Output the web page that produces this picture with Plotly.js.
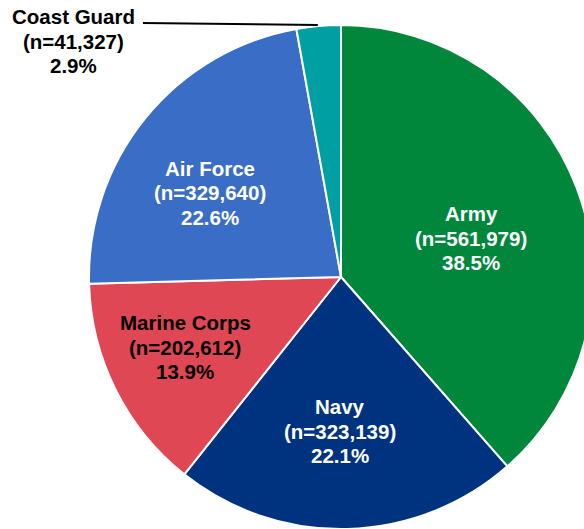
<!DOCTYPE html>
<html><head><meta charset="utf-8">
<script src="https://cdn.plot.ly/plotly-3.0.1.min.js"></script>
<style>html,body{margin:0;padding:0;overflow:hidden;background:#fff}#chart{width:600px;height:529px}</style>
</head><body><div id="chart"></div>
<script>
const branches = ["Army", "Navy", "Marine Corps", "Air Force", "Coast Guard"];
const counts = [561979, 323139, 202612, 329640, 41327];
const percents = ["38.5%", "22.1%", "13.9%", "22.6%", "2.9%"];
const colors = ["#00873C", "#00337F", "#E04754", "#3A6DC6", "#00A0A2"];
const textColors = ["#ffffff", "#ffffff", "#000000", "#ffffff", "#000000"];

// label block centres (paper coordinates of the plot area), one per slice
const labelPos = [[0.758, 0.577], [0.499, 0.194], [0.191, 0.361], [0.240, 0.667], [-0.030, 0.968]];
const lineGap = 24.5 / 504;
const fontSize = 20.5;

const fmt = n => n.toLocaleString("en-US");
const labelLines = branches.map((b, i) => [b, `(n=${fmt(counts[i])})`, percents[i]]);

const trace = {
  type: "pie",
  labels: branches,
  values: counts,
  sort: false,
  direction: "clockwise",
  rotation: 0,
  textinfo: "none",
  marker: {colors: colors, line: {color: "#ffffff", width: 2}},
  hoverinfo: "none",
  showlegend: false,
  domain: {x: [0, 1], y: [0, 1]}
};

const annotations = [];
branches.forEach((b, i) => {
  labelLines[i].forEach((line, k) => {
    annotations.push({
      xref: "paper", yref: "paper",
      x: labelPos[i][0], y: labelPos[i][1] + (1 - k) * lineGap,
      xanchor: "center", yanchor: "middle", align: "center",
      text: `<b>${line}</b>`, showarrow: false,
      font: {family: "Liberation Sans, Arial, sans-serif", size: fontSize, color: textColors[i]}
    });
  });
});

const layout = {
  width: 600, height: 529,
  margin: {l: 89, r: 7, t: 25, b: 0},
  paper_bgcolor: "#ffffff",
  showlegend: false,
  annotations: annotations,
  shapes: [{
    type: "line", xref: "paper", yref: "paper",
    x0: 0.107, x1: 0.454, y0: 1.004, y1: 1.0,
    line: {color: "#000000", width: 2}
  }]
};

Plotly.newPlot("chart", [trace], layout, {displayModeBar: false, staticPlot: true});
</script></body></html>
